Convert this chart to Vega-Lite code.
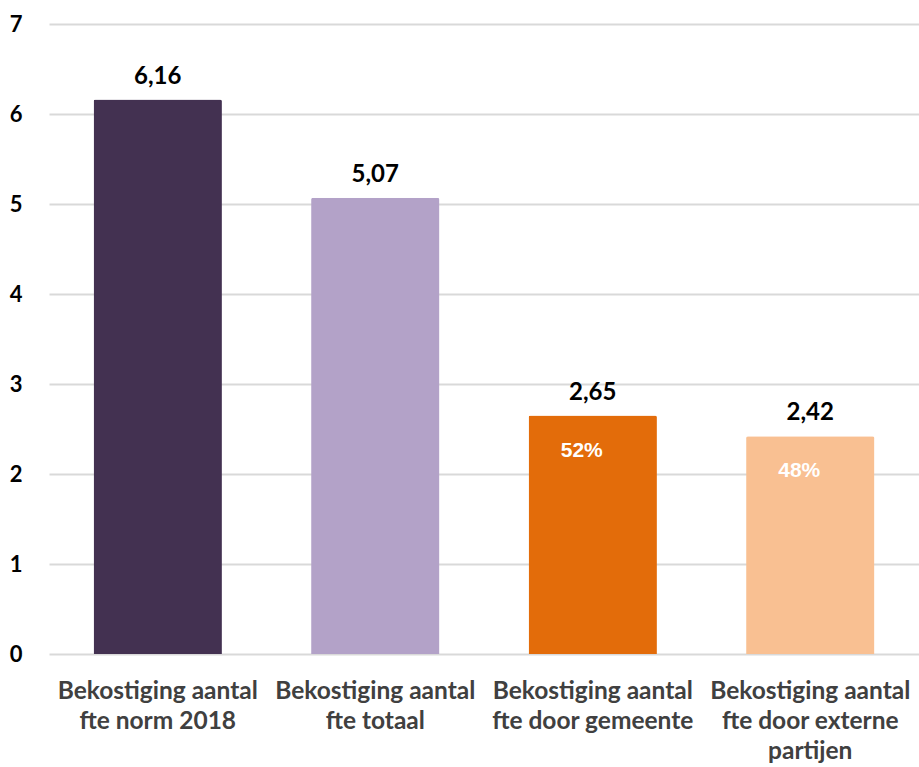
{
  "$schema": "https://vega.github.io/schema/vega-lite/v6.json",
  "width": 870,
  "height": 630,
  "autosize": "none",
  "padding": {"left": 49, "top": 24, "right": 0, "bottom": 113},
  "background": "white",
  "data": {
    "values": [
      {"cat": "Bekostiging aantal|fte norm 2018", "value": 6.16, "label": "6,16", "pct": null},
      {"cat": "Bekostiging aantal|fte totaal", "value": 5.07, "label": "5,07", "pct": null},
      {"cat": "Bekostiging aantal|fte door gemeente", "value": 2.65, "label": "2,65", "pct": "52%"},
      {"cat": "Bekostiging aantal|fte door externe|partijen", "value": 2.42, "label": "2,42", "pct": "48%"}
    ]
  },
  "config": {
    "view": {"stroke": null},
    "font": "Lato"
  },
  "encoding": {
    "x": {
      "field": "cat", "type": "nominal", "sort": null,
      "scale": {"paddingInner": 0.41, "paddingOuter": 0.205},
      "axis": {
        "title": null, "labelAngle": 0, "domain": false, "ticks": false,
        "labelExpr": "split(datum.label, '|')", "labelLimit": 400,
        "labelFont": "Lato", "labelFontWeight": "bold", "labelFontSize": 24.5,
        "labelColor": "#404040", "labelPadding": 25, "labelLineHeight": 30,
        "labelBaseline": "top"
      }
    },
    "y": {
      "field": "value", "type": "quantitative",
      "scale": {"domain": [0, 7]},
      "axis": {
        "title": null, "values": [0, 1, 2, 3, 4, 5, 6, 7],
        "domain": false, "ticks": false, "labelOverlap": false,
        "grid": true, "gridColor": "#d9d9d9", "gridWidth": 2,
        "labelFont": "Lato", "labelFontWeight": "bold", "labelFontSize": 22,
        "labelColor": "#000000", "labelPadding": 27
      }
    }
  },
  "layer": [
    {
      "mark": {"type": "bar", "cornerRadiusTopLeft": 2, "cornerRadiusTopRight": 2},
      "encoding": {
        "color": {
          "field": "cat", "type": "nominal", "legend": null, "sort": null,
          "scale": {"range": ["#433151", "#b3a2c8", "#e36c0a", "#f9c092"]}
        }
      }
    },
    {
      "mark": {"type": "text", "baseline": "alphabetic", "dy": -16, "fontSize": 24, "fontWeight": "bold", "color": "#000000", "font": "Lato"},
      "encoding": {"text": {"field": "label"}}
    },
    {
      "transform": [{"filter": "datum.pct != null"}],
      "mark": {"type": "text", "baseline": "middle", "dy": 35, "xOffset": -11, "fontSize": 21, "fontWeight": "bold", "color": "#ffffff", "font": "Liberation Sans"},
      "encoding": {"text": {"field": "pct"}}
    }
  ]
}
